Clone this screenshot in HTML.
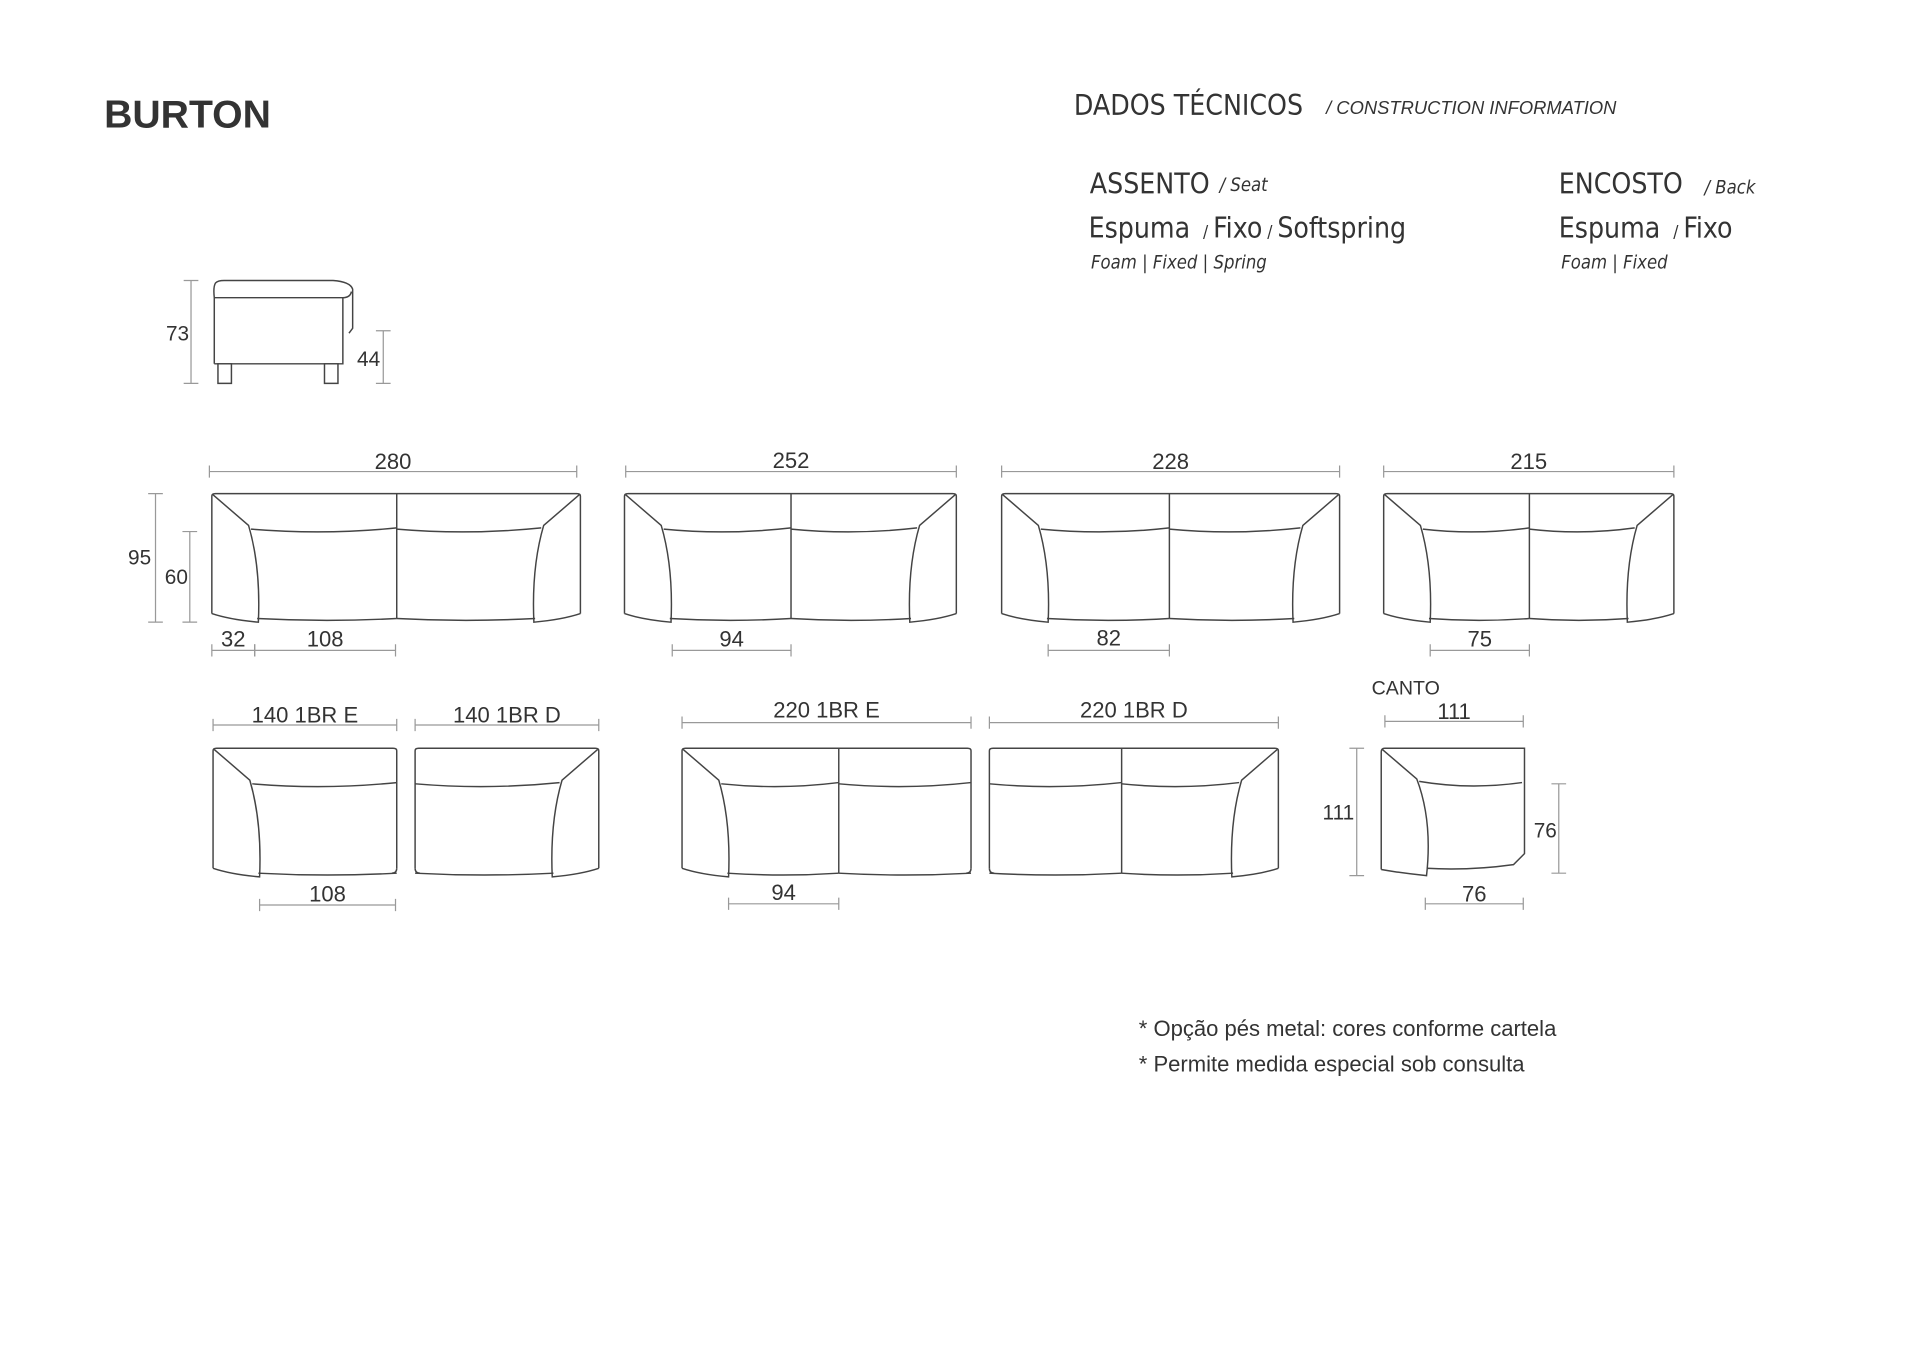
<!DOCTYPE html>
<html><head><meta charset="utf-8">
<style>
html,body{margin:0;padding:0;background:#fff;}
svg{display:block;}
text{font-family:"Liberation Sans",sans-serif;fill:#333;}
.n{font-family:"Liberation Sans Narrow","DejaVu Sans Condensed","Liberation Sans",sans-serif;}
</style></head>
<body>
<svg id="s" width="1920" height="1357" viewBox="0 0 1568 1108" xmlns="http://www.w3.org/2000/svg">
<text x="85" y="104" font-size="32" font-weight="bold" fill="#333">BURTON</text>
<text class="n" x="877" y="94" font-size="23">DADOS TÉCNICOS</text>
<text x="1083" y="93" font-size="15" font-style="italic">/ CONSTRUCTION INFORMATION</text>
<text class="n" x="890" y="158" font-size="23">ASSENTO</text>
<text class="n" x="996" y="156" font-size="15" font-style="italic">/ Seat</text>
<text class="n" x="889" y="194" font-size="23">Espuma <tspan font-size="14">&#160;/ </tspan>Fixo<tspan font-size="14"> / </tspan>Softspring</text>
<text class="n" x="891" y="219" font-size="15" font-style="italic">Foam | Fixed | Spring</text>
<text class="n" x="1273" y="158" font-size="23">ENCOSTO</text>
<text class="n" x="1392" y="158" font-size="15" font-style="italic">/ Back</text>
<text class="n" x="1273" y="194" font-size="23">Espuma <tspan font-size="14">&#160;/ </tspan>Fixo</text>
<text class="n" x="1275" y="219" font-size="15" font-style="italic">Foam | Fixed</text>
<text x="930" y="846" font-size="18">* Opção pés metal: cores conforme cartela</text>
<text x="930" y="875" font-size="18">* Permite medida especial sob consulta</text>
<g id="g" fill="none" stroke="#444" stroke-width="1.2"></g>
<g id="d" fill="none" stroke="#999" stroke-width="1"></g>
<g id="t"></g>
</svg>
<script>
var g=document.getElementById('g'),d=document.getElementById('d'),t=document.getElementById('t');
var NS='http://www.w3.org/2000/svg';
function p(par,dd,extra){var e=document.createElementNS(NS,'path');e.setAttribute('d',dd);if(extra)for(var k in extra)e.setAttribute(k,extra[k]);par.appendChild(e);}
function tx(x,y,s,sz){var e=document.createElementNS(NS,'text');e.setAttribute('x',x);e.setAttribute('y',y);e.setAttribute('font-size',sz||18);e.setAttribute('text-anchor','middle');e.textContent=s;t.appendChild(e);}
function hd(x1,x2,y,label,ly){p(d,'M'+x1+' '+y+'H'+x2+'M'+x1+' '+(y-5)+'v10M'+x2+' '+(y-5)+'v10');if(label)tx((x1+x2)/2,ly,label);}
function vd(x,y1,y2){p(d,'M'+x+' '+y1+'V'+y2+'M'+(x-6)+' '+y1+'h12M'+(x-6)+' '+y2+'h12');}
function sofa(x1,x2,y1,y2,L,R,divs){
 var mid=(x1+x2)/2, aw=37;
 var s='M'+x1+' '+(y2-6)+'V'+(y1+2)+'Q'+x1+' '+y1+' '+(x1+3)+' '+y1+'H'+(x2-3)+'Q'+x2+' '+y1+' '+x2+' '+(y1+2)+'V'+(y2-6);
 p(g,s);
 var bl=L?x1+aw:x1, br=R?x2-aw:x2;
 if(L){p(g,'M'+(x1+1)+' '+(y1+1)+'L'+(x1+30)+' '+(y1+26)+'Q'+(x1+40)+' '+(y1+60)+' '+(x1+38)+' '+(y2+1)+'Q'+(x1+15)+' '+(y2-1)+' '+x1+' '+(y2-6));}
 else p(g,'M'+x1+' '+(y2-6)+'Q'+x1+' '+(y2-2)+' '+(x1+4)+' '+(y2-2));
 if(R){p(g,'M'+(x2-1)+' '+(y1+1)+'L'+(x2-30)+' '+(y1+26)+'Q'+(x2-40)+' '+(y1+60)+' '+(x2-38)+' '+(y2+1)+'Q'+(x2-15)+' '+(y2-1)+' '+x2+' '+(y2-6));}
 else p(g,'M'+x2+' '+(y2-6)+'Q'+x2+' '+(y2-2)+' '+(x2-4)+' '+(y2-2));
 var bx1=L?x1+32:x1, bx2=R?x2-32:x2;
 var pts=[bx1].concat(divs).concat([bx2]);
 for(var i=0;i<pts.length-1;i++){
  var a=pts[i],b=pts[i+1];
  p(g,'M'+a+' '+(y1+29)+'Q'+((a+b)/2)+' '+(y1+34)+' '+b+' '+(y1+28));
  var ba=(i==0?bl:a), bb=(i==pts.length-2?br:b);
  p(g,'M'+ba+' '+(y2-2)+'Q'+((ba+bb)/2)+' '+(y2+1)+' '+bb+' '+(y2-2));
 }
 divs.forEach(function(x){p(g,'M'+x+' '+y1+'V'+(y2-2));});
}
// side view
p(g,'M175 297V243Q174 234 176 231Q178 229 183 229H272Q286 230 288 236V268L285 272M175 243H280Q286 243 287 238M280 243V297H175');
p(g,'M178 297h11v16h-11zM265 297h11v16h-11z');
vd(156,229,313);vd(313,270,313);
tx(145,278,'73',17);tx(301,299,'44',17);
// row 1
sofa(173,474,403,507,1,1,[324]);
sofa(510,781,403,507,1,1,[646]);
sofa(818,1094,403,507,1,1,[955]);
sofa(1130,1367,403,507,1,1,[1249]);
hd(171,471,385,'280',383);hd(511,781,385,'252',382);hd(818,1094,385,'228',383);hd(1130,1367,385,'215',383);
vd(127,403,508);vd(155,434,508);
tx(114,461,'95',17);tx(144,477,'60',17);
hd(173,208,531,'32',528);hd(208,323,531,'108',528);
hd(549,646,531,'94',528);hd(856,955,531,'82',527);hd(1168,1249,531,'75',528);
// row 2
sofa(174,324,611,715,1,0,[]);
sofa(339,489,611,715,0,1,[]);
sofa(557,793,611,715,1,0,[685]);
sofa(808,1044,611,715,0,1,[916]);
hd(174,324,592,'140 1BR E',590);hd(339,489,592,'140 1BR D',590);
hd(557,793,590,'220 1BR E',586);hd(808,1044,590,'220 1BR D',586);
hd(212,323,739,'108',736);hd(595,685,738,'94',735);
// canto
p(g,'M1128 710V614Q1128 611 1131 611H1245V697L1236 706Q1200 711 1165 709M1129 612L1157 636Q1170 670 1165 715Q1145 713 1128 710M1159 638Q1200 645 1243 639');
tx(1148,567,'CANTO',16);
hd(1131,1244,589,'111',587);
vd(1108,611,715);tx(1093,669,'111',17);
vd(1273,640,713);tx(1262,684,'76',17);
hd(1164,1244,738,'76',736);
</script>
</body></html>
